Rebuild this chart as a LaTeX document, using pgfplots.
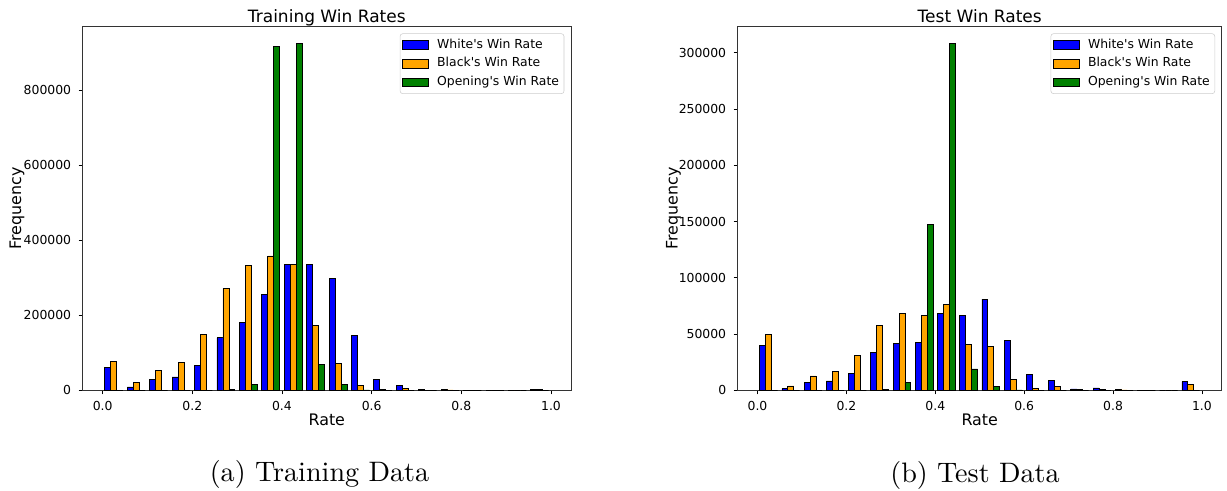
\documentclass[border=0pt]{standalone}
\usepackage{fontspec}
\usepackage{pgfplots}
\usepackage{pgfplotstable}
\pgfplotsset{compat=1.18}
\newfontfamily\dv{DejaVu Sans}[Ligatures=TeXOff]
\newfontfamily\capfont{lmroman10-regular}[Extension=.otf]

\definecolor{mplblue}{RGB}{0,0,255}
\definecolor{mplorange}{RGB}{255,165,0}
\definecolor{mplgreen}{RGB}{0,128,0}

% histogram counts per bin (bin centre c, bin width 0.05)
% w = White's win rate, b = Black's win rate, o = opening's win rate
\pgfplotstableread{
c     w      b      o
0.025 60000  76600  0
0.075 8900   20500  0
0.125 29400  53500  0
0.175 35600  74000  0
0.225 65900  149700 0
0.275 139900 271700 2000
0.325 181700 332300 16000
0.375 255700 358100 917600
0.425 335900 335900 924700
0.475 335000 171900 68600
0.525 299300 72200  16000
0.575 147000 13400  1000
0.625 29400  3500   0
0.675 12500  5300   0
0.725 1500   800    0
0.775 2500   1000   0
0.825 800    300    0
0.875 200    100    0
0.925 100    0      0
0.975 3500   2000   0
}\traindata

\pgfplotstableread{
c     w     b     o
0.025 39500 49900 0
0.075 1500  3900  0
0.125 7100  12800 0
0.175 8300  16600 0
0.225 15200 31200 0
0.275 33900 57900 600
0.325 41900 68000 7100
0.375 42800 66800 147400
0.425 68600 76100 308400
0.475 66800 41000 19000
0.525 81100 38900 3300
0.575 44600 9800  300
0.625 14000 1800  0
0.675 8600  3600  0
0.725 1200  400   0
0.775 2100  900   0
0.825 900   300   0
0.875 200   100   0
0.925 0     0     0
0.975 7700  5600  0
}\testdata

\pgfplotsset{
  hist/.style={
    scale only axis, anchor=south west,
    xmin=-0.0445, xmax=1.0445, ymin=0,
    xtick={0,0.2,0.4,0.6,0.8,1},
    tick align=outside, tick pos=left,
    major tick length=3pt,
    tick style={black, line width=0.6pt},
    axis line style={black!80, line width=0.6pt},
    scaled ticks=false,
    ticklabel style={font=\dv\fontsize{9.3}{11}\selectfont},
    xticklabel style={anchor=base, yshift=-12.3pt,
      /pgf/number format/.cd, fixed, fixed zerofill, precision=1, assume math mode=true},
    yticklabel style={anchor=east, inner sep=0pt, xshift=-5.5pt,
      /pgf/number format/.cd, fixed, precision=0, 1000 sep={}, assume math mode=true},
    xlabel=Rate, ylabel=Frequency,
    xlabel style={font=\dv\fontsize{11.9}{14}\selectfont,
      at={(axis description cs:0.5,-0.0953)}, anchor=base},
    ylabel style={font=\dv\fontsize{11.9}{14}\selectfont,
      at={(axis description cs:-0.126,0.5)}, anchor=base},
    every axis title shift=0pt,
    title style={font=\dv\fontsize{12.75}{15}\selectfont,
      at={(0.5,1.011)}, anchor=base},
    legend cell align=left,
    legend style={at={(1,1)}, anchor=north east, xshift=-5pt, yshift=-5.5pt,
      draw=black!20, rounded corners=2pt, fill=white,
      font=\dv\fontsize{9.3}{11}\selectfont,
      inner xsep=1.75pt, inner ysep=4pt, row sep=5pt,
      nodes={inner xsep=2pt, inner ysep=0pt, text height=7pt, text depth=2pt},
      /tikz/every odd column/.append style={column sep=4pt}},
  },
  mybar/.style={ybar, bar width=0.0133333, bar shift=0pt,
    draw=black, line width=0.6pt, fill=#1,
    legend image code/.code={\draw[sharp corners, fill=#1, draw=black, line width=0.6pt]
      (0pt,-3.25pt) rectangle (19.5pt,3.25pt);}},
}

\begin{document}
\begin{tikzpicture}
\useasboundingbox (0,0) rectangle (920.25pt,368.25pt);

\begin{axis}[hist, at={(62pt,75.5pt)}, width=366.2pt, height=273.2pt,
  ymax=970935, ytick={0,200000,400000,600000,800000},
  title={Training Win Rates}]
  \addplot[mybar=mplblue] table[x expr=\thisrow{c}-0.0133333, y=w] {\traindata};
  \addplot[mybar=mplorange] table[x=c, y=b] {\traindata};
  \addplot[mybar=mplgreen] table[x expr=\thisrow{c}+0.0133333, y=o] {\traindata};
  \legend{White's Win Rate, Black's Win Rate, Opening's Win Rate}
\end{axis}

\begin{axis}[hist, at={(553.3pt,75.5pt)}, width=363pt, height=273.2pt,
  ymax=323820, ytick={0,50000,100000,150000,200000,250000,300000},
  ylabel style={at={(axis description cs:-0.124,0.5)}},
  title={Test Win Rates}]
  \addplot[mybar=mplblue] table[x expr=\thisrow{c}-0.0133333, y=w] {\testdata};
  \addplot[mybar=mplorange] table[x=c, y=b] {\testdata};
  \addplot[mybar=mplgreen] table[x expr=\thisrow{c}+0.0133333, y=o] {\testdata};
  \legend{White's Win Rate, Black's Win Rate, Opening's Win Rate}
\end{axis}

\node[anchor=base, font=\capfont\fontsize{21.1}{25}\selectfont] at (239.6pt,7pt) {(a) Training Data};
\node[anchor=base, font=\capfont\fontsize{21.1}{25}\selectfont] at (731.25pt,6.4pt) {(b) Test Data};
\end{tikzpicture}
\end{document}
